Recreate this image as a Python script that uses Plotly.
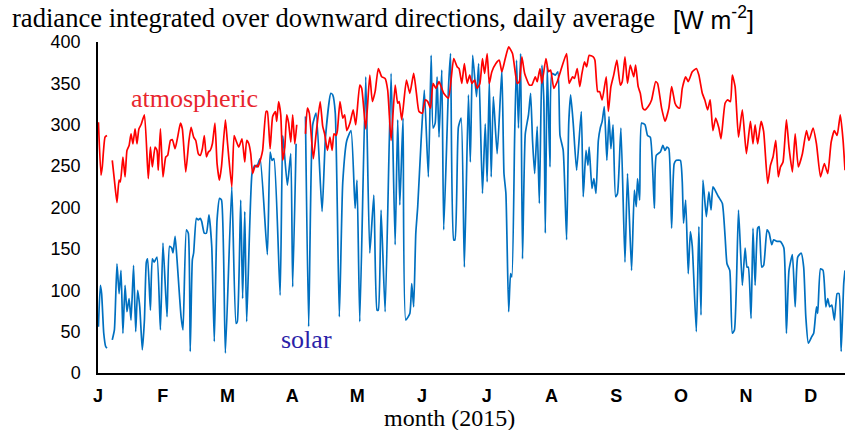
import plotly.graph_objects as go

# day of year (2015) and daily-average downward radiance [W m-2]; None = missing day
atmospheric = [(0.2,303),(1.4,239),(2.0,249),(3.3,285),(4.2,287),(5.5,None),(6.7,257),(7.7,233),(8.9,206),(9.9,233),(10.5,231),(11.7,261),(12.7,237),(13.6,269),(14.6,275),(15.5,289),(16.4,277),(17.4,295),(18.3,277),(19.2,295),(20.2,300),(21.8,312),(23.6,235),(24.6,273),(25.5,249),(26.8,273),(27.7,269),(28.3,245),(29.3,295),(30.5,237),(31.8,261),(32.7,263),(34.0,281),(34.9,282),(36.2,271),(37.4,285),(38.7,302),(39.6,295),(41.2,243),(42.7,281),(43.7,297),(44.9,285),(45.9,281),(47.1,265),(48.0,263),(49.0,271),(49.9,287),(50.9,261),(51.8,267),(52.7,269),(53.7,277),(54.9,302),(55.9,253),(57.0,233),(58.0,250),(59.8,306),(60.7,281),(62.8,225),(63.9,287),(64.8,281),(66.1,273),(67.6,283),(68.9,255),(69.8,281),(70.8,277),(71.7,265),(72.6,241),(73.6,249),(74.5,251),(75.1,249),(76.4,259),(77.3,269),(78.9,316),(79.5,316),(80.8,271),(82.0,310),(83.3,316),(83.9,304),(84.8,328),(85.8,312),(86.7,257),(87.7,273),(88.6,312),(89.5,302),(90.5,279),(91.4,312),(92.4,277),(93.3,300),(95.3,None),(97.4,289),(98.3,320),(99.2,314),(101.1,259),(102.4,289),(104.3,328),(105.5,298),(106.4,289),(107.7,269),(108.9,285),(109.9,269),(110.8,289),(111.8,287),(112.4,293),(113.6,328),(114.9,308),(115.8,312),(116.8,293),(118.3,302),(119.8,318),(121.0,300),(122.9,348),(123.8,344),(125.7,295),(127.6,360),(128.8,328),(130.1,340),(131.6,368),(133.2,358),(134.8,356),(136.0,342),(137.6,281),(139.5,348),(140.7,326),(141.4,328),(142.6,306),(144.8,354),(146.4,338),(148.2,362),(149.5,338),(150.7,316),(152.3,314),(153.6,330),(154.8,328),(156.1,320),(157.3,350),(158.6,344),(160.1,352),(162.3,338),(164.5,332),(167.0,380),(168.6,370),(169.5,368),(170.8,350),(172.0,374),(173.3,350),(174.5,360),(175.5,350),(176.8,354),(178.0,344),(179.3,350),(180.5,380),(181.5,362),(182.7,386),(183.7,350),(184.9,364),(186.8,374),(188.4,378),(189.6,364),(191.2,380),(192.8,394),(194.6,386),(196.8,350),(197.8,352),(199.0,382),(200.3,362),(202.5,348),(203.7,348),(205.3,358),(206.2,352),(207.5,368),(208.4,350),(210.3,380),(211.5,364),(212.5,366),(214.0,344),(215.6,352),(217.8,370),(220.0,386),(221.2,350),(222.8,358),(223.7,356),(225.0,368),(226.2,346),(227.2,362),(228.4,376),(229.4,370),(230.6,384),(232.5,382),(233.3,378),(234.6,340),(235.5,340),(236.7,330),(238.6,358),(239.6,316),(240.8,346),(242.1,360),(243.6,378),(245.2,348),(246.1,352),(247.4,382),(248.6,350),(249.9,372),(251.5,358),(252.4,372),(253.6,346),(254.6,338),(255.8,320),(256.8,318),(258.3,322),(259.9,330),(261.8,352),(262.7,350),(264.6,320),(266.2,304),(268.0,320),(269.3,346),(270.9,326),(271.8,322),(273.1,320),(274.3,344),(275.9,358),(277.1,352),(279.0,364),(280.9,368),(282.1,360),(283.7,338),(284.9,330),(286.2,318),(287.4,330),(288.7,293),(290.0,308),(291.5,296),(292.5,283),(294.4,326),(295.6,330),(296.9,328),(297.8,360),(299.1,346),(300.7,285),(302.5,318),(304.4,265),(306.3,304),(307.5,277),(308.5,300),(309.7,277),(311.3,304),(312.5,292),(314.4,229),(315.7,251),(316.9,261),(318.2,281),(319.4,237),(320.4,249),(321.6,255),(323.2,306),(324.4,273),(326.0,243),(327.3,289),(328.8,249),(330.7,265),(332.6,293),(333.8,281),(335.7,296),(337.3,277),(339.2,237),(341.0,253),(342.6,241),(344.2,279),(345.7,293),(347.0,287),(348.5,312),(349.8,281),(350.7,245)]

solar = [(0.2,56),(1.1,106),(1.7,96),(2.7,48),(3.6,32),(4.2,30),(5.5,None),(6.7,40),(7.7,52),(8.9,132),(9.9,96),(10.8,124),(11.7,48),(12.7,106),(13.6,74),(14.6,90),(15.5,64),(16.7,130),(17.7,50),(18.6,100),(19.6,80),(20.8,28),(21.8,64),(22.7,134),(23.3,138),(24.6,76),(25.5,138),(26.4,134),(27.7,140),(29.3,52),(30.5,157),(32.4,68),(33.6,153),(34.6,151),(35.2,145),(36.2,165),(37.1,137),(39.0,68),(39.9,52),(41.5,173),(42.4,169),(43.3,26),(44.3,137),(44.9,145),(46.2,187),(47.1,185),(48.0,187),(48.7,183),(49.9,169),(50.9,169),(52.1,191),(53.4,153),(54.6,38),(55.9,185),(57.1,211),(58.0,209),(59.8,24),(62.8,225),(64.8,60),(65.4,62),(67.0,209),(67.9,90),(68.9,195),(69.8,62),(72.3,241),(73.6,251),(74.5,249),(76.1,259),(79.5,143),(80.8,267),(81.7,257),(82.6,259),(85.5,94),(86.7,287),(87.3,273),(88.9,227),(90.5,265),(91.4,104),(93.0,277),(95.3,None),(97.4,310),(98.9,56),(100.8,300),(102.4,314),(105.2,195),(106.8,285),(109.3,338),(110.2,336),(111.4,314),(113.3,68),(114.9,230),(116.8,281),(118.8,293),(120.7,199),(121.6,233),(122.9,62),(125.7,358),(127.6,145),(129.5,215),(131.0,76),(131.6,76),(132.9,197),(134.8,74),(137.6,362),(139.5,155),(140.7,306),(141.7,203),(143.2,308),(144.5,64),(146.4,72),(147.3,108),(148.2,80),(149.2,169),(150.1,201),(151.7,281),(153.2,342),(155.1,237),(156.4,384),(157.3,296),(158.3,302),(159.2,358),(160.1,285),(161.4,366),(162.3,173),(163.9,293),(164.5,342),(165.5,386),(167.0,161),(167.6,161),(169.2,297),(170.5,308),(172.0,128),(173.9,336),(174.8,255),(175.9,384),(177.7,334),(178.7,374),(180.5,217),(181.8,301),(182.7,231),(183.7,354),(184.6,237),(185.6,334),(187.4,265),(189.6,366),(190.6,241),(191.5,217),(192.8,74),(193.7,120),(194.3,116),(195.6,285),(196.5,378),(197.4,296),(198.4,386),(199.3,138),(200.6,289),(202.1,312),(203.1,338),(204.0,281),(205.0,241),(206.2,298),(207.2,205),(208.4,372),(209.3,330),(210.0,169),(210.9,372),(212.2,249),(213.1,362),(214.7,360),(215.9,364),(216.9,287),(218.4,269),(220.0,161),(221.0,302),(221.9,336),(223.1,302),(224.7,245),(226.9,316),(227.8,213),(229.1,269),(230.0,251),(230.6,273),(231.9,223),(232.8,235),(233.8,217),(234.9,281),(235.8,296),(236.7,304),(237.7,322),(238.9,257),(239.9,310),(240.8,271),(241.8,300),(243.0,213),(243.9,217),(245.5,296),(247.4,134),(248.6,241),(250.5,124),(251.8,221),(252.7,201),(253.3,235),(254.3,209),(255.2,302),(256.8,300),(258.0,287),(259.3,285),(261.2,199),(262.1,263),(264.0,267),(265.2,275),(266.2,269),(267.1,273),(268.0,271),(269.3,175),(270.5,253),(271.5,257),(273.4,257),(274.3,231),(274.9,181),(275.9,209),(277.1,120),(278.1,171),(279.0,153),(280.9,50),(282.1,177),(283.1,70),(284.0,233),(285.6,189),(286.8,219),(287.8,197),(288.7,225),(289.7,221),(291.3,213),(293.1,205),(294.4,165),(295.3,132),(296.6,124),(297.8,48),(298.8,52),(300.7,197),(302.5,106),(303.8,151),(304.7,128),(305.3,128),(306.6,66),(307.5,175),(308.5,106),(309.7,175),(310.4,177),(311.6,128),(312.5,130),(314.1,173),(315.1,169),(316.3,155),(317.2,161),(318.8,159),(320.4,159),(322.0,151),(323.2,48),(324.4,124),(326.0,143),(327.3,80),(328.5,140),(330.1,145),(331.3,128),(332.3,68),(333.5,36),(335.1,44),(336.0,48),(337.3,80),(337.9,72),(339.2,126),(340.4,124),(341.7,80),(342.6,90),(343.5,80),(344.5,82),(345.7,64),(347.0,96),(347.9,96),(348.9,26),(350.1,108),(350.7,124)]

month_labels = ["J", "F", "M", "A", "M", "J", "J", "A", "S", "O", "N", "D"]
month_len = 365 / 12
month_ticks = [i * month_len for i in range(12)]
y_ticks = [0, 50, 100, 150, 200, 250, 300, 350, 400]

serif = "Liberation Serif, Times New Roman, serif"
sans = "Liberation Sans Narrow, Liberation Sans, Arial, sans-serif"

fig = go.Figure()
fig.add_trace(go.Scatter(
    x=[p[0] for p in solar], y=[p[1] for p in solar], mode="lines",
    line=dict(color="#0070C0", width=1.7, shape="spline", smoothing=0.5),
    connectgaps=False, showlegend=False, name="solar"))
fig.add_trace(go.Scatter(
    x=[p[0] for p in atmospheric], y=[p[1] for p in atmospheric], mode="lines",
    line=dict(color="#FF0000", width=1.7, shape="spline", smoothing=0.5),
    connectgaps=False, showlegend=False, name="atmospheric"))

fig.update_layout(
    width=845, height=430,
    margin=dict(l=98, r=0, t=42, b=57),
    paper_bgcolor="white", plot_bgcolor="white",
    showlegend=False,
    xaxis=dict(range=[0, 350.7], tickmode="array", tickvals=month_ticks,
               ticktext=month_labels, showgrid=False, zeroline=False,
               showline=True, linecolor="black", linewidth=2, ticks="",
               ticklabelstandoff=5,
               tickfont=dict(family=sans, size=18, color="black", weight="bold")),
    yaxis=dict(range=[0, 400], tickmode="array", tickvals=y_ticks,
               showgrid=False, zeroline=False, showline=True,
               linecolor="black", linewidth=1.5, ticks="",
               ticklabelstandoff=12,
               tickfont=dict(family=sans, size=18, color="black")),
    annotations=[
        dict(text="radiance integrated over downward directions, daily average",
             xref="paper", yref="paper", x=-0.118, y=1.072, xanchor="left",
             yanchor="middle", showarrow=False,
             font=dict(family=serif, size=26.6, color="black")),
        dict(text="[W m<sup>-2</sup>]", xref="paper", yref="paper",
             x=0.767, y=1.072, xanchor="left", yanchor="middle",
             showarrow=False, font=dict(family=sans, size=25, color="black")),
        dict(text="atmospheric", x=45.5, y=332, xref="x", yref="y",
             showarrow=False, font=dict(family=serif, size=26, color="#E8252D")),
        dict(text="solar", x=97.7, y=40, xref="x", yref="y",
             showarrow=False, font=dict(family=serif, size=26, color="#2B1FA8")),
        dict(text="month (2015)", xref="paper", yref="paper", x=0.47, y=-0.136,
             xanchor="center", yanchor="middle", showarrow=False,
             font=dict(family=serif, size=24, color="black")),
    ],
)

fig.write_html("out.html", config={"displayModeBar": False},
               post_script="document.body.style.margin='0px';")
